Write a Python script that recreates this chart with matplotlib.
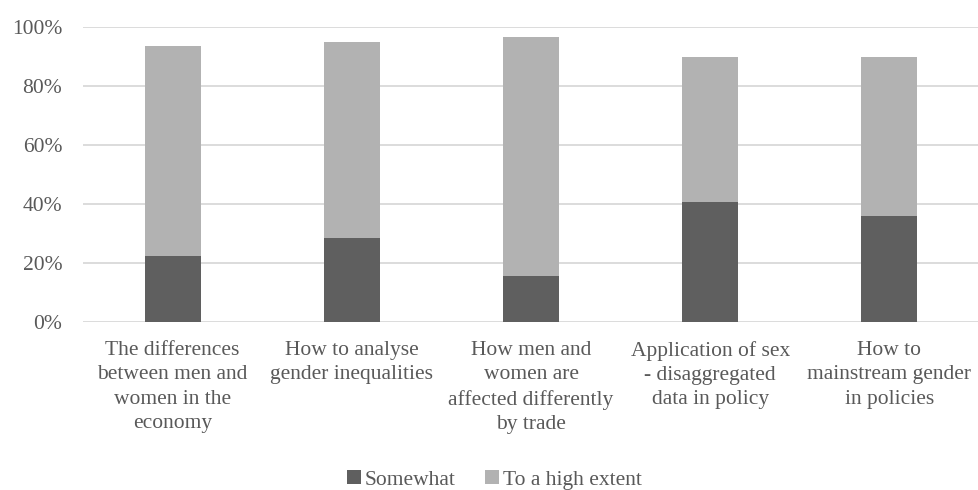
import matplotlib
matplotlib.use("Agg")
import matplotlib.pyplot as plt
from matplotlib.ticker import PercentFormatter
import numpy as np

categories = [
    "The differences\nbetween men and\nwomen in the\neconomy",
    "How to analyse\ngender inequalities",
    "How men and\nwomen are\naffected differently\nby trade",
    "Application of sex\n- disaggregated\ndata in policy",
    "How to\nmainstream gender\nin policies",
]
somewhat = [22.4, 28.3, 15.6, 40.6, 35.9]
high_extent = [71.2, 66.4, 80.8, 49.1, 53.8]
yticks = [0, 20, 40, 60, 80, 100]

plt.rcParams["font.family"] = ["Liberation Serif", "DejaVu Serif"]
text_color = "#595959"
fs = 15.5

fig = plt.figure(figsize=(9.79, 4.90), dpi=100)
ax = fig.add_axes([83 / 979, 1 - 322 / 490, 1 - 83 / 979, (322 - 26.7) / 490])

x = np.arange(len(categories))
width = 0.313
ax.bar(x, somewhat, width, color="#5f5f5f", label="Somewhat", zorder=3)
ax.bar(x, high_extent, width, bottom=somewhat, color="#b2b2b2",
       label="To a high extent", zorder=3)

ax.set_xlim(-0.5, len(categories) - 0.5)
ax.set_ylim(0, 100)
ax.set_yticks(yticks)
ax.yaxis.set_major_formatter(PercentFormatter(decimals=0))
ax.grid(axis="y", color="#d9d9d9", linewidth=1.3, zorder=0)
for s in ax.spines.values():
    s.set_visible(False)
ax.tick_params(axis="both", length=0, colors=text_color, labelsize=fs)
ax.tick_params(axis="y", pad=15)
ax.tick_params(axis="x", pad=14)
ax.set_xticks(x)
ax.set_xticklabels(categories, linespacing=1.36)

leg = fig.legend(loc="center", bbox_to_anchor=(0.505, 1 - 480 / 490), ncol=2,
                 frameon=False, fontsize=fs, handlelength=0.65,
                 handleheight=0.65, handletextpad=0.15, columnspacing=1.4,
                 borderpad=0)
for t in leg.get_texts():
    t.set_color(text_color)

fig.savefig("out.png", dpi=100)
